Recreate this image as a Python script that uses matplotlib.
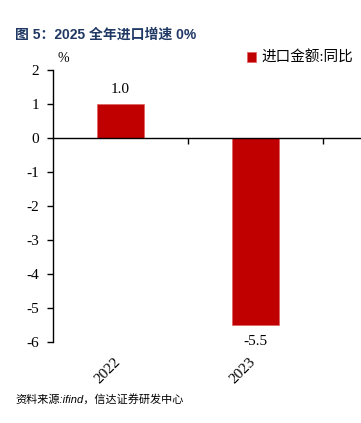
import matplotlib.pyplot as plt
from matplotlib.transforms import blended_transform_factory

# data
years = ["2022", "2023"]
values = [1.0, -5.5]
series_name = "进口金额:同比"
title = "图 5：2025 全年进口增速 0%"
source = "资料来源:ifind，信达证券研发中心"

plt.rcParams['font.family'] = ['Liberation Serif', 'Noto Sans CJK SC']
plt.rcParams['axes.unicode_minus'] = False

fig = plt.figure(figsize=(3.61, 4.23), dpi=100)
# axes extends past the right edge like the cropped original
ax = fig.add_axes([53 / 361, 81 / 423, 405 / 361, 272 / 423])

x = list(range(len(years)))
bars = ax.bar(x, values, width=0.35, color="#C00000", edgecolor="#E06060", linewidth=0.5,
              label=series_name, zorder=2)

ax.set_xlim(-0.5, 2.5)
ax.set_ylim(-6, 2)
ax.set_yticks(range(-6, 3))
ax.tick_params(axis='y', direction='out', length=4, width=1, labelsize=11, pad=6)

ax.spines['top'].set_visible(False)
ax.spines['right'].set_visible(False)
ax.spines['bottom'].set_position(('data', 0))
ax.spines['left'].set_linewidth(1)
ax.spines['bottom'].set_linewidth(1)

# ticks between categories, labels drawn at the bottom
ax.set_xticks([i + 0.5 for i in x], minor=True)
ax.set_xticks(x)
ax.set_xticklabels([])
ax.tick_params(axis='x', which='major', length=0)
ax.tick_params(axis='x', which='minor', direction='out', length=4, width=1)

tr = blended_transform_factory(ax.transData, ax.transAxes)
for i, yr in zip(x, years):
    ax.text(i + 0.02, -0.05, yr, transform=tr, rotation=45, ha='right', va='top',
            fontsize=11)

for i, v in zip(x, values):
    if v >= 0:
        ax.annotate(f"{v:.1f}", (i, v), xytext=(0, 6), textcoords='offset points',
                    ha='center', va='bottom', fontsize=11)
    else:
        ax.annotate(f"{v:.1f}", (i, v), xytext=(0, -7), textcoords='offset points',
                    ha='center', va='top', fontsize=11)

ax.text(0.01, 1.02, "%", transform=ax.transAxes, ha='left', va='bottom', fontsize=10)

ax.legend(loc='upper left', bbox_to_anchor=((247 - 53) / 405, 1.07), frameon=False,
          handlelength=0.6, handleheight=0.6, handletextpad=0.4, fontsize=10.5,
          borderaxespad=0, borderpad=0)

fig.text(15 / 361, 1 - 35 / 423, title, fontsize=10, fontweight='bold', color="#1F3864",
         va='center', ha='left', family=['Liberation Sans', 'Noto Sans CJK SC'])
fig.text(15 / 361, 1 - 399 / 423, source, fontsize=8, style='italic', va='center',
         ha='left', family=['Liberation Sans', 'Noto Sans CJK SC'])

fig.savefig("out.png", dpi=100)
